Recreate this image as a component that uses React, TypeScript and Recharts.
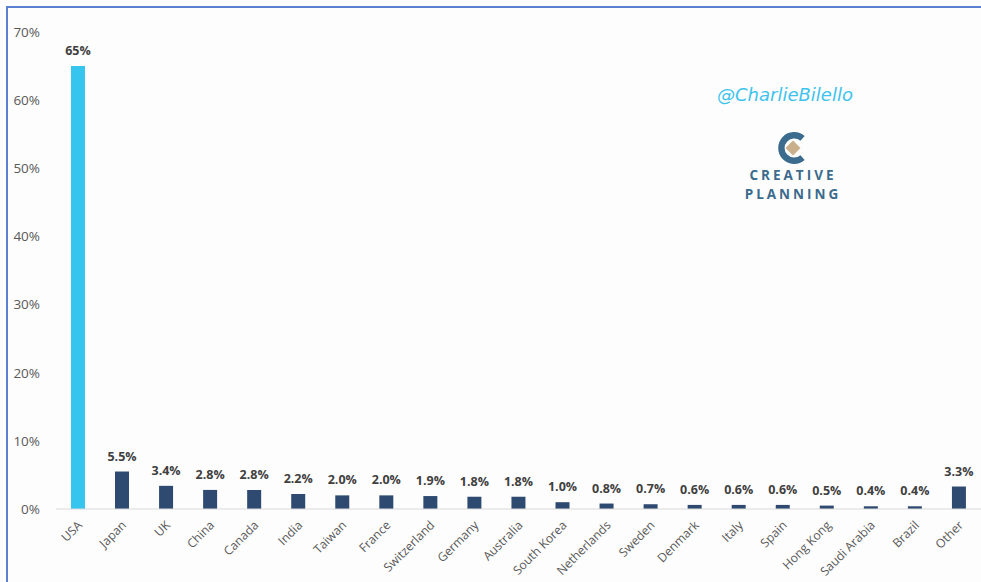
import React from 'react';
import { BarChart, Bar, XAxis, YAxis, Cell, LabelList } from 'recharts';

const countries = [
  'USA', 'Japan', 'UK', 'China', 'Canada', 'India', 'Taiwan', 'France', 'Switzerland', 'Germany', 'Australia',
  'South Korea', 'Netherlands', 'Sweden', 'Denmark', 'Italy', 'Spain', 'Hong Kong', 'Saudi Arabia', 'Brazil', 'Other',
];
const shares = [65, 5.5, 3.4, 2.8, 2.8, 2.2, 2.0, 2.0, 1.9, 1.8, 1.8, 1.0, 0.8, 0.7, 0.6, 0.6, 0.6, 0.5, 0.4, 0.4, 3.3];
const yTicks = [0, 10, 20, 30, 40, 50, 60, 70];

const data = countries.map((name, i) => ({ name, value: shares[i] }));

const fmt = (v: number) => (v >= 10 ? `${v}%` : `${v.toFixed(1)}%`);

const XTick = (props: any) => {
  const { x, y, payload } = props;
  return (
    <text
      x={x + 5}
      y={y + 9}
      textAnchor="end"
      fontSize={12.2}
      fill="#595959"
      fontFamily="'Open Sans', sans-serif"
      transform={`rotate(-45 ${x + 5} ${y + 9})`}
    >
      {payload.value}
    </text>
  );
};

const logoText = {
  position: 'absolute' as const,
  left: 726,
  width: 134,
  textAlign: 'center' as const,
  fontFamily: "'Open Sans', sans-serif",
  fontWeight: 700,
  fontSize: 13.5,
  letterSpacing: 3,
  lineHeight: '15px',
  color: '#3b6b8d',
};

export default function App() {
  return (
    <div style={{ position: 'fixed', left: 0, top: 0, width: 981, height: 582, background: '#fdfdfd', overflow: 'hidden' }}>
      <div
        style={{
          position: 'absolute',
          left: 6,
          top: 6,
          width: 990,
          height: 600,
          borderLeft: '2px solid #5b7fd1',
          borderTop: '2px solid #5b7fd1',
        }}
      />
      <BarChart
        width={981}
        height={582}
        data={data}
        margin={{ top: 32, right: 0, bottom: 0, left: 0 }}
        barCategoryGap="34%"
        style={{ position: 'absolute', left: 0, top: 0 }}
      >
        <XAxis
          dataKey="name"
          interval={0}
          tickLine={false}
          axisLine={{ stroke: '#d9d9d9' }}
          tick={<XTick />}
          height={73}
        />
        <YAxis
          width={56}
          domain={[0, 70]}
          ticks={yTicks}
          tickFormatter={(v: number) => `${v}%`}
          axisLine={false}
          tickLine={false}
          tickMargin={10}
          tick={{ fontSize: 13.5, fill: '#595959', fontFamily: "'Open Sans', sans-serif" }}
        />
        <Bar dataKey="value" isAnimationActive={false}>
          {data.map((d, i) => (
            <Cell key={d.name} fill={i === 0 ? '#35c5ef' : '#2e4a70'} />
          ))}
          <LabelList
            dataKey="value"
            position="top"
            offset={11}
            formatter={(v: any) => fmt(Number(v))}
            style={{ fontSize: 12.5, fontWeight: 700, fill: '#404040', fontFamily: "'Open Sans', sans-serif" }}
          />
        </Bar>
      </BarChart>
      <div
        style={{
          position: 'absolute',
          left: 717,
          top: 84,
          width: 150,
          fontFamily: "'DejaVu Sans', sans-serif",
          fontStyle: 'italic',
          fontSize: 18,
          color: '#3ec3ee',
          whiteSpace: 'nowrap',
        }}
      >
        @CharlieBilello
      </div>
      <svg style={{ position: 'absolute', left: 776, top: 131 }} width={34} height={34} viewBox="0 0 32 32">
        <path d="M25 7 A12 12 0 1 0 25 25" fill="none" stroke="#3b6b8d" strokeWidth={6} />
        <rect x={11} y={11} width={10} height={10} fill="#c9b08a" transform="rotate(45 16 16)" />
      </svg>
      <div style={{ ...logoText, top: 168 }}>CREATIVE</div>
      <div style={{ ...logoText, top: 187 }}>PLANNING</div>
    </div>
  );
}
